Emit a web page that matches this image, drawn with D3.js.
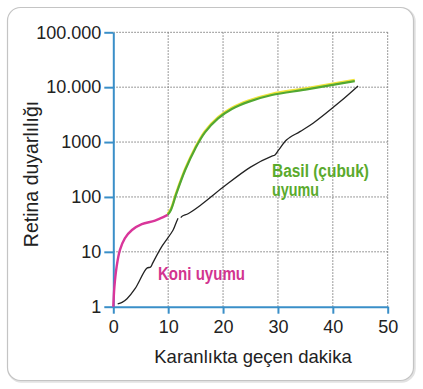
<!DOCTYPE html>
<html>
<head>
<meta charset="utf-8">
<script src="https://cdn.jsdelivr.net/npm/d3@7"></script>
<style>
  body { margin: 0; background: #fff; }
  svg { display: block; }
</style>
</head>
<body>
<svg id="chart"></svg>
<script>
// x ticks (minutes) and y ticks (sensitivity, log)
const xTicks = [0, 10, 20, 30, 40, 50];
const yTicks = [1, 10, 100, 1000, 10000, 100000];
const yTickLabels = ["1", "10", "100", "1000", "10.000", "100.000"];

// cone adaptation (magenta)
const coneX = [0, 0.2, 0.6, 1.2, 2.1, 3.4, 5.2, 7.6, 9.9];
const coneY = [1, 2.3, 5.3, 10.7, 17.6, 25, 32, 37, 47];

// rod adaptation (green)
const rodX = [9.9, 10.5, 11.5, 13.1, 14.9, 16.7, 19.1, 21.6, 24.6, 28.9, 35, 40, 44];
const rodY = [47, 58, 116, 310, 750, 1500, 2700, 4000, 5400, 7200, 9000, 11000, 12900];

// black threshold curve, two pieces
const blackAX = [0.8, 1.6, 2.5, 4.0, 6.1, 6.8, 7.2, 8.8, 10.9, 11.5, 11.8];
const blackAY = [1.12, 1.2, 1.4, 2.15, 5.0, 5.3, 6.3, 12.3, 25, 35, 41];
const blackBX = [12.3, 12.6, 13.7, 16, 20, 25, 28.9, 29.4, 30.1, 31.6, 34, 36.4, 41.3, 44.6];
const blackBY = [42, 45, 50, 72, 150, 350, 556, 575, 710, 1100, 1550, 2200, 5400, 10500];

const width = 423;
const height = 389;
const plotLeft = 113.3, plotRight = 387.7, plotTop = 32.3, plotBottom = 306.7;

const svg = d3.select("#chart")
    .attr("width", width)
    .attr("height", height)
    .style("font-family", "'Liberation Sans', Arial, sans-serif");

// frame
svg.append("rect")
    .attr("x", 8.5).attr("y", 8.5)
    .attr("width", 406).attr("height", 373)
    .attr("rx", 13)
    .attr("fill", "none")
    .attr("stroke", "#e2e2e2")
    .attr("stroke-width", 2.5);
svg.append("rect")
    .attr("x", 7.5).attr("y", 7.5)
    .attr("width", 406).attr("height", 373)
    .attr("rx", 13)
    .attr("fill", "#fff")
    .attr("stroke", "#c4c4c4")
    .attr("stroke-width", 1.2);

const xScale = d3.scaleLinear().domain([0, 50]).range([plotLeft, plotRight]);
const yScale = d3.scaleLog().domain([1, 100000]).range([plotBottom, plotTop]);

// grid
const grid = svg.append("g")
    .attr("stroke", "#7a7a7a")
    .attr("stroke-width", 1)
    .attr("stroke-dasharray", "1.5,1.5");
grid.selectAll("line.gx")
    .data(xTicks.slice(1))
    .enter().append("line")
    .attr("x1", d => xScale(d)).attr("x2", d => xScale(d))
    .attr("y1", plotTop).attr("y2", plotBottom);
grid.selectAll("line.gy")
    .data(yTicks.slice(1))
    .enter().append("line")
    .attr("x1", plotLeft).attr("x2", plotRight)
    .attr("y1", d => yScale(d)).attr("y2", d => yScale(d));

// axes
const axisColor = "#3a8fc8";
const xAxis = d3.axisBottom(xScale)
    .tickValues(xTicks)
    .tickSize(7)
    .tickSizeOuter(0)
    .tickPadding(7);
const yAxis = d3.axisLeft(yScale)
    .tickValues(yTicks)
    .tickFormat((d, i) => yTickLabels[i])
    .tickSize(9)
    .tickSizeOuter(0)
    .tickPadding(3);

const gx = svg.append("g")
    .attr("transform", `translate(0, ${plotBottom})`)
    .call(xAxis);
const gy = svg.append("g")
    .attr("transform", `translate(${plotLeft}, 0)`)
    .call(yAxis);

[gx, gy].forEach(g => {
    g.select(".domain").attr("stroke", axisColor).attr("stroke-width", 2);
    g.selectAll(".tick line").attr("stroke", axisColor).attr("stroke-width", 2);
    g.selectAll(".tick text")
        .attr("fill", "#222")
        .style("font-size", "18px")
        .style("font-family", "'Liberation Sans', Arial, sans-serif");
});

// axis labels
svg.append("text")
    .attr("x", 253)
    .attr("y", 363)
    .style("text-anchor", "middle")
    .style("font-size", "18.5px")
    .attr("fill", "#222")
    .text("Karanlıkta geçen dakika");

svg.append("text")
    .attr("transform", "rotate(-90)")
    .attr("x", -174)
    .attr("y", 38)
    .style("text-anchor", "middle")
    .style("font-size", "19.5px")
    .attr("fill", "#222")
    .text("Retina duyarlılığı");

// curves
const line = d3.line()
    .x(d => xScale(d[0]))
    .y(d => yScale(d[1]))
    .curve(d3.curveCatmullRom.alpha(0.5));

const zip = (xs, ys) => xs.map((x, i) => [x, ys[i]]);

svg.append("path")
    .datum(zip(blackAX, blackAY))
    .attr("d", line)
    .attr("fill", "none")
    .attr("stroke", "#222")
    .attr("stroke-width", 1.3);

svg.append("path")
    .datum(zip(blackBX, blackBY))
    .attr("d", line)
    .attr("fill", "none")
    .attr("stroke", "#222")
    .attr("stroke-width", 1.3);

svg.append("path")
    .datum(zip(rodX, rodY))
    .attr("d", line)
    .attr("transform", "translate(0,-1.2)")
    .attr("fill", "none")
    .attr("stroke", "#f0e43a")
    .attr("stroke-width", 2.4);

svg.append("path")
    .datum(zip(rodX, rodY))
    .attr("d", line)
    .attr("fill", "none")
    .attr("stroke", "#52a832")
    .attr("stroke-width", 2.2);

svg.append("path")
    .datum(zip(coneX, coneY))
    .attr("d", line)
    .attr("fill", "none")
    .attr("stroke", "#d9369a")
    .attr("stroke-width", 2.4);

// curve labels (condensed bold)
svg.append("text")
    .attr("x", 158)
    .attr("y", 280)
    .attr("textLength", 87)
    .attr("lengthAdjust", "spacingAndGlyphs")
    .style("font-weight", "bold")
    .style("font-size", "18px")
    .attr("fill", "#d2348f")
    .text("Koni uyumu");

svg.append("text")
    .attr("x", 272)
    .attr("y", 177)
    .attr("textLength", 97)
    .attr("lengthAdjust", "spacingAndGlyphs")
    .style("font-weight", "bold")
    .style("font-size", "18px")
    .attr("fill", "#5aaa2c")
    .text("Basil (çubuk)");

svg.append("text")
    .attr("x", 272)
    .attr("y", 196)
    .attr("textLength", 47)
    .attr("lengthAdjust", "spacingAndGlyphs")
    .style("font-weight", "bold")
    .style("font-size", "18px")
    .attr("fill", "#5aaa2c")
    .text("uyumu");
</script>
</body>
</html>
